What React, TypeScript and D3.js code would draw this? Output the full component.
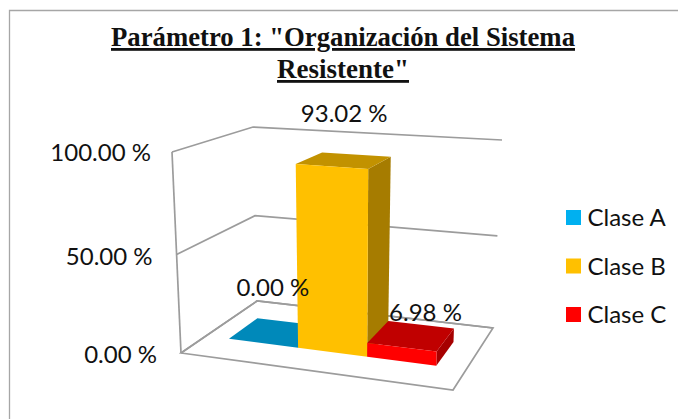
import React from "react";
import * as d3 from "d3";

const categories = ["Clase A", "Clase B", "Clase C"];
const values = [0, 93.02, 6.98];
const valueLabels = ["0.00 %", "93.02 %", "6.98 %"];
const axisTicks = [0, 50, 100];
const axisTickLabels = ["0.00 %", "50.00 %", "100.00 %"];
const titleLines = ['Parámetro 1: "Organización del Sistema', 'Resistente"'];

const legendColors = ["#00B0F0", "#FFC000", "#FF0000"];
const frontColors = ["#00B0F0", "#FFC000", "#FF0000"];
const topColors = ["#0089BA", "#C29200", "#C00000"];
const sideColors = ["#007BA8", "#A67C00", "#A60000"];

type Pt = [number, number];
// floor quad corners (front-left, front-right, back-right, back-left)
const fA: Pt = [181, 353];
const fB: Pt = [453, 390];
const fC: Pt = [493, 328];
const fD: Pt = [257, 301];
// screen vector of a full-scale height at these corners
const hA: Pt = [-9, -201];
const hB: Pt = [5, -218];
const hC: Pt = [9, -188];
const hD: Pt = [-4, -174];

const bilerp = (a: Pt, b: Pt, c: Pt, d: Pt, u: number, v: number): Pt => [
  a[0] * (1 - u) * (1 - v) + b[0] * u * (1 - v) + c[0] * u * v + d[0] * (1 - u) * v,
  a[1] * (1 - u) * (1 - v) + b[1] * u * (1 - v) + c[1] * u * v + d[1] * (1 - u) * v,
];

const heightScale = d3.scaleLinear().domain([0, 50, 100]).range([0, 0.49, 1]);
const uScale = d3.scaleBand<string>().domain(categories).range([0.088, 0.885]).paddingInner(0);
const vFront = 0.33;
const vBack = 0.72;

const project = (u: number, v: number, value: number): Pt => {
  const p = bilerp(fA, fB, fC, fD, u, v);
  const h = bilerp(hA, hB, hC, hD, u, v);
  const t = heightScale(value);
  return [p[0] + h[0] * t, p[1] + h[1] * t];
};

const line = d3.line<Pt>();
const closed = (pts: Pt[]) => line(pts) + "Z";

const GRID = "#9C9C9C";
const SANS = "Lato, 'Open Sans', sans-serif";

// data label anchor offsets from the top centre of each bar
const labelDx = [-4, 0, 14];
const labelDy = [-37, -39, -15];
// tick label offsets from the wall's front edge
const tickDx = [-24, -24, -21];
const tickDy = [10, 10, 9];

export default function App() {
  const gridLines = axisTicks.map((t) => [project(0, 0, t), project(0, 1, t), project(1, 1, t)] as Pt[]);
  const floor = [project(0, 0, 0), project(1, 0, 0), project(1, 1, 0), project(0, 1, 0)];
  return (
    <svg
      width={678}
      height={419}
      style={{ position: "absolute", left: 0, top: 0, background: "#fff" }}
    >
      <path d="M9.5,419V10.5H678" fill="none" stroke="#A6A6A6" strokeWidth={1.3} />

      {titleLines.map((t, i) => (
        <text
          key={t}
          x={343}
          y={46 + i * 32}
          textAnchor="middle"
          fontFamily="'Liberation Serif', serif"
          fontWeight="bold"
          fontSize={28}
          textDecoration="underline"
          fill="#111"
          textLength={i === 0 ? 464 : 132}
          lengthAdjust="spacingAndGlyphs"
        >
          {t}
        </text>
      ))}

      <path d={closed(floor)} fill="none" stroke={GRID} strokeWidth={1.7} />
      {gridLines.map((g, i) => (
        <path key={i} d={line(g)!} fill="none" stroke={GRID} strokeWidth={1.7} />
      ))}
      <path d={line([project(0, 0, 0), project(0, 0, 100)])!} fill="none" stroke={GRID} strokeWidth={1.7} />

      {categories.map((c, i) => {
        const u0 = uScale(c)!;
        const u1 = u0 + uScale.bandwidth();
        const val = values[i];
        const top = closed([project(u0, vFront, val), project(u1, vFront, val), project(u1, vBack, val), project(u0, vBack, val)]);
        const side = closed([project(u1, vFront, 0), project(u1, vBack, 0), project(u1, vBack, val), project(u1, vFront, val)]);
        const front = closed([project(u0, vFront, 0), project(u1, vFront, 0), project(u1, vFront, val), project(u0, vFront, val)]);
        return (
          <g key={c}>
            {val > 0 && <path d={side} fill={sideColors[i]} />}
            <path d={top} fill={topColors[i]} />
            {val > 0 && <path d={front} fill={frontColors[i]} />}
          </g>
        );
      })}

      {categories.map((c, i) => {
        const um = uScale(c)! + uScale.bandwidth() / 2;
        const p = project(um, (vFront + vBack) / 2, values[i]);
        return (
          <text
            key={c}
            x={p[0] + labelDx[i]}
            y={p[1] + labelDy[i]}
            textAnchor="middle"
            fontFamily={SANS}
            fontSize={24}
            fill="#111"
          >
            {valueLabels[i]}
          </text>
        );
      })}

      {axisTicks.map((t, i) => {
        const p = project(0, 0, t);
        return (
          <text
            key={t}
            x={p[0] + tickDx[i]}
            y={p[1] + tickDy[i]}
            textAnchor="end"
            fontFamily={SANS}
            fontSize={24}
            fill="#111"
          >
            {axisTickLabels[i]}
          </text>
        );
      })}

      {categories.map((c, i) => {
        const y = d3.scalePoint<string>().domain(categories).range([210, 307])(c)!;
        return (
          <g key={c}>
            <rect x={566} y={y} width={15} height={15} fill={legendColors[i]} />
            <text x={587.5} y={y + 16} fontFamily={SANS} fontSize={24} fill="#111">
              {c}
            </text>
          </g>
        );
      })}
    </svg>
  );
}
